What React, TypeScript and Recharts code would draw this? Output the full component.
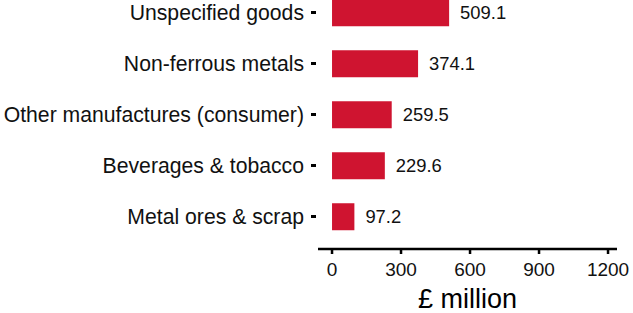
import React from 'react';
import { BarChart, Bar, XAxis, YAxis, LabelList } from 'recharts';

const categories = [
  'Unspecified goods',
  'Non-ferrous metals',
  'Other manufactures (consumer)',
  'Beverages & tobacco',
  'Metal ores & scrap',
];
const values = [509.1, 374.1, 259.5, 229.6, 97.2];
const xTicks = [0, 300, 600, 900, 1200];

const data = categories.map((name, i) => ({ name, value: values[i] }));

const FONT = '"Liberation Sans", Arial, sans-serif';

// y tick: short heavy dash with the label right-aligned before it
const CategoryTick = (props: any) => {
  const { x, y, payload } = props;
  return (
    <g>
      <line x1={x + 1} x2={x + 6} y1={y} y2={y} stroke="#000" strokeWidth={3} />
      <text x={x - 6} y={y} dy={7} textAnchor="end" fontSize={21.2} fill="#111" fontFamily={FONT}>
        {payload.value}
      </text>
    </g>
  );
};

export default function App() {
  return (
    <div style={{ width: 633, height: 313, background: '#fff' }}>
      <style>{'body{margin:0}'}</style>
      <BarChart
        width={633}
        height={313}
        data={data}
        layout="vertical"
        margin={{ top: -13, right: 16, left: 0, bottom: 0 }}
        barCategoryGap="24%"
      >
        <XAxis
          type="number"
          domain={[-61, 1239]}
          ticks={xTicks}
          allowDataOverflow
          height={64}
          axisLine={{ stroke: '#000', strokeWidth: 2.5 }}
          tickLine={{ stroke: '#000', strokeWidth: 2.5 }}
          tickSize={5}
          tick={{ fontSize: 19, fill: '#111', fontFamily: FONT, dy: 7 }}
          label={{ value: '£ million', position: 'insideBottom', offset: 0, dy: -5, fontSize: 27, fill: '#000', fontFamily: FONT }}
        />
        <YAxis
          type="category"
          dataKey="name"
          width={318}
          axisLine={false}
          tickLine={false}
          padding={{ top: 0, bottom: 7 }}
          tick={<CategoryTick />}
        />
        <Bar dataKey="value" fill="#cf1430" isAnimationActive={false}>
          <LabelList
            dataKey="value"
            position="right"
            offset={11}
            formatter={(v: any) => Number(v).toFixed(1)}
            style={{ fontSize: 18.4, fill: '#111', fontFamily: FONT }}
          />
        </Bar>
      </BarChart>
    </div>
  );
}
